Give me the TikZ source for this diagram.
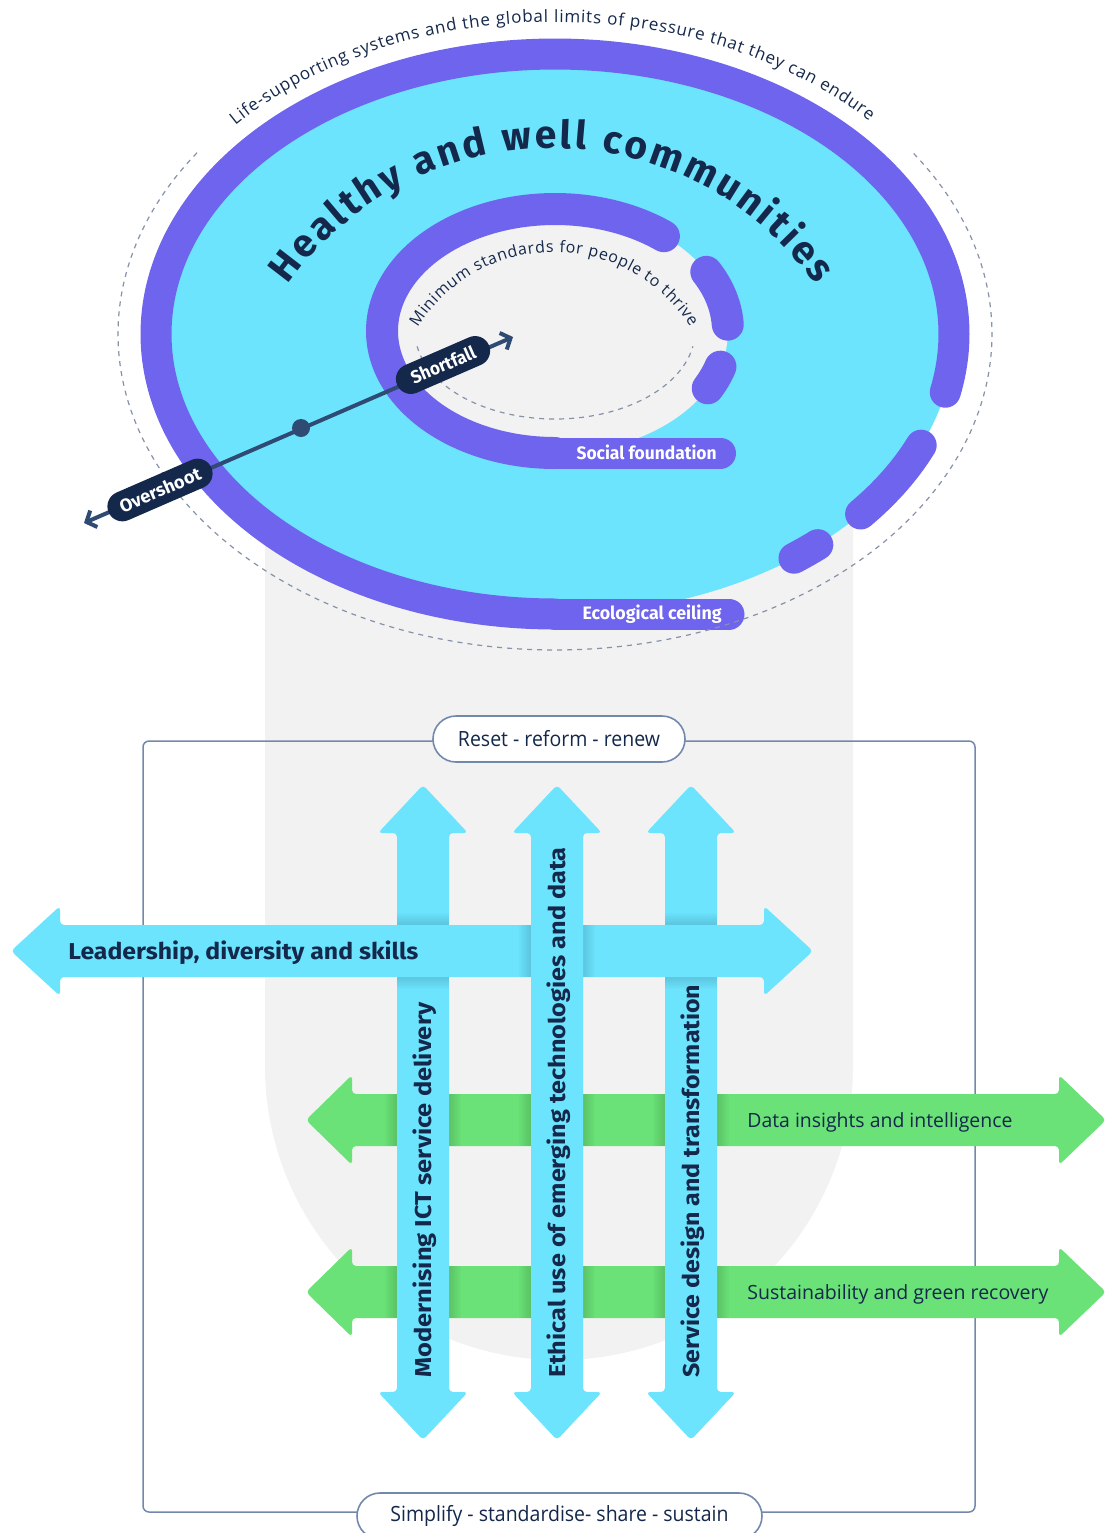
\documentclass[tikz,border=0pt]{standalone}
\usepackage{fontspec}
\usepackage{graphicx}
\usetikzlibrary{decorations.text,arrows.meta}
\setmainfont{Open Sans}
\newfontfamily\osans{Open Sans}
\newfontfamily\fira{Fira Sans}
\definecolor{purp}{HTML}{6E64EE}
\definecolor{cyanc}{HTML}{6DE4FD}
\definecolor{greenc}{HTML}{6AE277}
\definecolor{lgray}{HTML}{F2F2F2}
\definecolor{navy}{HTML}{14284B}
\definecolor{framec}{HTML}{7389AC}
\definecolor{linec}{HTML}{2F4B74}
\definecolor{dashc}{HTML}{8592A8}
\newcommand\fitw[2]{\resizebox{#1}{\height}{#2}}
\newcommand\vfont{\fira\bfseries\fontsize{11.5}{13}\selectfont}
\newcommand\hwfont{\fira\bfseries\fontsize{19.5}{22}\selectfont}
\newcommand\lifefont{\osans\fontsize{8.5}{10}\selectfont}
\newcommand\minfont{\osans\fontsize{8}{10}\selectfont}
\newcommand\labfont{\fira\bfseries\fontsize{9}{10}\selectfont}
\newcommand\vdarrow[2]{\fill[#1] (#2,785) -- ({#2+45},833) -- ({#2+26},833) -- ({#2+26},1392) -- ({#2+45},1392) -- (#2,1440) -- ({#2-45},1392) -- ({#2-26},1392) -- ({#2-26},833) -- ({#2-45},833) -- cycle;}
\newcommand\hdarrow[6]{\fill[#1] (#3,#2) -- (#4,{#2-45}) -- (#4,{#2-26}) -- (#5,{#2-26}) -- (#5,{#2-45}) -- (#6,#2) -- (#5,{#2+45}) -- (#5,{#2+26}) -- (#4,{#2+26}) -- (#4,{#2+45}) -- cycle;}
\begin{document}
\begin{tikzpicture}[x=0.5pt,y=-0.5pt,
  ringline/.style={draw=purp,line width=15.5pt,line cap=round,line join=round},
  innerline/.style={draw=purp,line width=16pt,line cap=round,line join=round},
  dashedarc/.style={draw=dashc,line width=0.6pt,dash pattern=on 2.5pt off 2.5pt},
  cyanarrow/.style={fill=cyanc,rounded corners=2pt},
  greenarrow/.style={fill=greenc,rounded corners=2pt},
  shadowband/.style={fill=black,opacity=0.018},
  framepill/.style={draw=framec,fill=white,line width=0.8pt,rounded corners=11.5pt,minimum height=23pt,inner sep=0pt,text=navy},
  navypill/.style={fill=navy,rounded corners=7.5pt,minimum height=15pt,inner sep=0pt,text=white},
  plaintext/.style={inner sep=0pt,text=navy},
  whitetext/.style={inner sep=0pt,text=white}]
\useasboundingbox (0,0) rectangle (1105,1533);
\fill[white] (0,0) rectangle (1105,1533);
% grey capsule
\fill[lgray] (265,400) -- (265,1066) arc[start angle=180,end angle=360,radius=147pt] -- (853,400) -- cycle;
% frame
\draw[framec,line width=0.75pt,rounded corners=3pt] (143,741) rectangle (975,1512);
\node[framepill,minimum width=126pt] (reset) at (559,739) {\fitw{101pt}{\osans\fontsize{10.5}{12}\selectfont Reset - reform - renew}};
\node[framepill,minimum width=202.5pt] (simplify) at (559.5,1516) {\fitw{169pt}{\osans\fontsize{10.5}{12}\selectfont Simplify - standardise- share - sustain}};
% green arrows
\hdarrow{greenarrow}{1120}{306}{352}{1059}{1106}
\hdarrow{greenarrow}{1292}{306}{352}{1059}{1106}
\foreach \c in {423,557,691}{\foreach \g in {1120,1292}{\foreach \d in {2,4,...,12}{
  \fill[shadowband] ({\c-26-\d},{\g-26}) rectangle ({\c+26+\d},{\g+26});}}}
\node[plaintext,anchor=base west] (tdata) at (747,1127) {\fitw{132.5pt}{\osans\fontsize{9.8}{11}\selectfont Data insights and intelligence}};
\node[plaintext,anchor=base west] (tsust) at (747,1299) {\fitw{150.5pt}{\osans\fontsize{9.8}{11}\selectfont Sustainability and green recovery}};
% vertical arrows 1 and 3
\vdarrow{cyanarrow}{423}
\vdarrow{cyanarrow}{691}
\node[plaintext,rotate=90,anchor=base west] (tmod) at (431,1378) {\fitw{187.5pt}{\vfont Modernising ICT service delivery}};
\node[plaintext,rotate=90,anchor=base west] (tserv) at (699,1378) {\fitw{196.5pt}{\vfont Service design and transformation}};
\foreach \c in {423,691}{\foreach \d in {2,4,...,12}{
  \fill[shadowband] ({\c-26},{925-\d}) rectangle ({\c+26},{977+\d});}}
% horizontal cyan arrow
\hdarrow{cyanarrow}{951}{11}{60}{764}{813}
\node[plaintext,anchor=base west] (tlead) at (68,959) {\fitw{175pt}{\vfont Leadership, diversity and skills}};
\foreach \d in {2,4,...,12}{\fill[shadowband] ({531-\d},925) rectangle ({583+\d},977);}
% vertical arrow 2
\vdarrow{cyanarrow}{557}
\node[plaintext,rotate=90,anchor=base west] (teth) at (565,1378) {\fitw{265pt}{\vfont Ethical use of emerging technologies and data}};
% ellipse region
\fill[cyanc] (555,334) ellipse [x radius=199.5pt,y radius=140pt];
\fill[lgray] (555,331) ellipse [x radius=86.5pt,y radius=61pt];
\draw[dashedarc] plot[domain=190:350,samples=80] ({555+140*cos(\x)},{331-88*sin(\x)});
% outer ring
\draw[ringline] plot[domain=-12:270,samples=260] ({555+399*cos(\x)},{334-280*sin(\x)});
\draw[ringline] plot[domain=-40:-23.4,samples=30] ({555+399*cos(\x)},{334-280*sin(\x)});
\draw[ringline] plot[domain=-53.2:-48.8,samples=10] ({555+399*cos(\x)},{334-280*sin(\x)});
\coordinate (ecoL) at (555,614);
\coordinate (ecoR) at (729,614);
\draw[ringline] (ecoL) -- (ecoR);
% inner ring
\draw[innerline] plot[domain=51:270,samples=200] ({555+173*cos(\x)},{331-122*sin(\x)});
\draw[innerline] plot[domain=3:29,samples=30] ({555+173*cos(\x)},{331-122*sin(\x)});
\draw[innerline] plot[domain=-28:-17,samples=20] ({555+173*cos(\x)},{331-122*sin(\x)});
\coordinate (socL) at (555,453);
\coordinate (socR) at (720.5,453);
\draw[ringline] (socL) -- (socR);
\node[whitetext,anchor=base east] (tsoc) at (717,459) {\fitw{70pt}{\labfont Social foundation}};
\node[whitetext,anchor=base east] (teco) at (722,619) {\fitw{69.5pt}{\labfont Ecological ceiling}};
% outer dashed ellipse
\draw[dashedarc] plot[domain=145:395,samples=250] ({555+437*cos(\x)},{334-316*sin(\x)});
% curved texts
\path[decorate,decoration={text along path,text={|\lifefont|Life-supporting systems and the global limits of pressure that they can endure},text align={fit to path},text color=navy}]
  plot[domain=42:137,samples=200] ({555-430*cos(\x)},{334-312*sin(\x)});
\path[decorate,decoration={text along path,text={|\hwfont|Healthy and well communities},text align={fit to path},text color=navy}]
  plot[domain=35.2:144.8,samples=200] ({552-323*cos(\x)},{471-323*sin(\x)});
\path[decorate,decoration={text along path,text={|\minfont|Minimum standards for people to thrive},text align={fit to path},text color=navy}]
  plot[domain=32.2:147.8,samples=160] ({554-161*cos(\x)},{413-161*sin(\x)});
% overshoot / shortfall
\coordinate (osTip) at (84,523);
\coordinate (sfTip) at (513,337);
\draw[linec,line width=2pt,{Straight Barb[length=4pt,width=9pt]}-{Straight Barb[length=4pt,width=9pt]}] (osTip) -- (sfTip);
\node[circle,fill=linec,minimum size=9pt,inner sep=0pt] (middot) at (301,428) {};
\node[navypill,rotate=23.5,minimum width=56pt] (over) at (160,490) {\fitw{43.5pt}{\labfont Overshoot}};
\node[navypill,rotate=23.5,minimum width=50pt] (short) at (443,365) {\fitw{34.5pt}{\labfont Shortfall}};
\end{tikzpicture}
\end{document}
